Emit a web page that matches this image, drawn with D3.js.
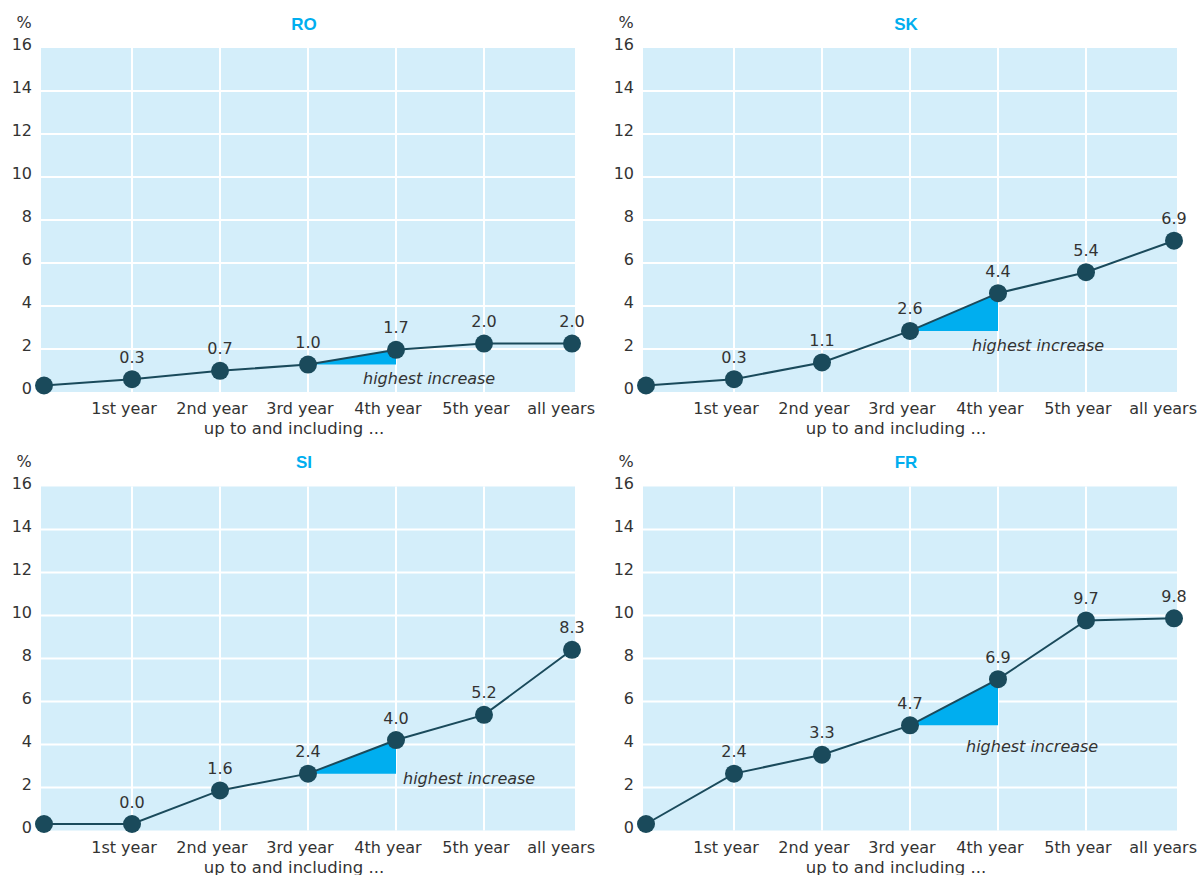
<!DOCTYPE html>
<html>
<head>
<meta charset="utf-8">
<script src="https://cdn.jsdelivr.net/npm/d3@7"></script>
<style>
  html, body { margin: 0; padding: 0; background: #ffffff; }
  svg { display: block; }
  text { font-family: "DejaVu Sans", sans-serif; fill: #333333; }
</style>
</head>
<body>
<svg id="chart" width="1198" height="875"></svg>
<script>
// ---- data ----
const categories = ["", "1st year", "2nd year", "3rd year", "4th year", "5th year", "all years"];
const yTicks = [0, 2, 4, 6, 8, 10, 12, 14, 16];
const countries = ["RO", "SK", "SI", "FR"];
const valuesRO = [0, 0.3, 0.7, 1.0, 1.7, 2.0, 2.0];
const valuesSK = [0, 0.3, 1.1, 2.6, 4.4, 5.4, 6.9];
const valuesSI = [0, 0.0, 1.6, 2.4, 4.0, 5.2, 8.3];
const valuesFR = [0, 2.4, 3.3, 4.7, 6.9, 9.7, 9.8];
const highlightCategory = "4th year";
const annotationText = "highest increase";
const xAxisTitle = "up to and including ...";
const unitLabel = "%";

// ---- layout / style ----
const panels = [
  { name: "RO", values: valuesRO, ox: 0,   oy: 0,     note: { dx: -33, dy: 19.5 } },
  { name: "SK", values: valuesSK, ox: 602, oy: 0,     note: { dx: -26, dy: 20 } },
  { name: "SI", values: valuesSI, ox: 0,   oy: 438.5, note: { dx: 7,   dy: 10 } },
  { name: "FR", values: valuesFR, ox: 602, oy: 438.5, note: { dx: -32, dy: 26.5 } }
];
const P = { left: 41, right: 575, top: 48, bottom: 392 };
const colors = { bg: "#d4eefa", grid: "#ffffff", line: "#1a4a5b", accent: "#00aeef", text: "#333333" };

const svg = d3.select("#chart");

panels.forEach(p => {
  const g = svg.append("g").attr("transform", `translate(${p.ox},${p.oy})`);

  const x = d3.scalePoint().domain(categories).range([P.left + 3, P.right - 3]);
  const yGrid = d3.scaleLinear().domain([0, 16]).range([P.bottom, P.top]);
  const yMark = d3.scaleLinear().domain([0, 16]).range([P.bottom - 6.5, P.top + 1.7]);

  // background
  g.append("rect")
    .attr("x", P.left).attr("y", P.top)
    .attr("width", P.right - P.left).attr("height", P.bottom - P.top)
    .attr("fill", colors.bg);

  // horizontal gridlines
  g.selectAll(".hgrid").data(yTicks.filter(t => t > 0 && t < 16)).join("line")
    .attr("x1", P.left).attr("x2", P.right)
    .attr("y1", d => yGrid(d)).attr("y2", d => yGrid(d))
    .attr("stroke", colors.grid).attr("stroke-width", 2);

  // vertical gridlines
  g.selectAll(".vgrid").data(categories.slice(1, categories.length - 1)).join("line")
    .attr("x1", d => x(d)).attr("x2", d => x(d))
    .attr("y1", P.top).attr("y2", P.bottom)
    .attr("stroke", colors.grid).attr("stroke-width", 2);

  // y tick labels
  g.selectAll(".ytick").data(yTicks).join("text")
    .attr("x", P.left - 9).attr("y", d => yGrid(d) + 2)
    .attr("text-anchor", "end").attr("font-size", 16)
    .text(d => d);

  // unit label
  g.append("text").attr("x", 24).attr("y", 28)
    .attr("text-anchor", "middle").attr("font-size", 16).text(unitLabel);

  // title
  g.append("text").attr("x", (P.left + P.right) / 2 - 4).attr("y", 29.5)
    .attr("text-anchor", "middle").attr("font-size", 17)
    .attr("font-weight", "bold")
    .style("font-family", "'Liberation Sans', Arial, sans-serif")
    .style("fill", colors.accent).text(p.name);

  // x tick labels
  g.selectAll(".xtick").data(categories.slice(1)).join("text")
    .attr("x", d => x(d) - 8).attr("y", P.bottom + 22)
    .attr("text-anchor", "middle").attr("font-size", 16)
    .text(d => d)
    .each(function () {
      const w = this.getComputedTextLength();
      const cx = +this.getAttribute("x");
      if (cx + w / 2 > P.right + 20) this.setAttribute("x", P.right + 20 - w / 2);
    });

  // x axis title
  g.append("text").attr("x", (P.left + P.right) / 2 - 14).attr("y", P.bottom + 42)
    .attr("text-anchor", "middle").attr("font-size", 16.5).text(xAxisTitle);

  const pts = categories.map((c, i) => ({ c, v: p.values[i], i }));
  const hi = categories.indexOf(highlightCategory);
  const a = pts[hi - 1], b = pts[hi];

  // highlight triangle
  g.append("path")
    .attr("d", `M${x(a.c)},${yMark(a.v)}L${x(b.c)},${yMark(b.v)}L${x(b.c)},${yMark(a.v)}Z`)
    .attr("fill", colors.accent);

  // line
  g.append("path").datum(pts)
    .attr("d", d3.line().x(d => x(d.c)).y(d => yMark(d.v)))
    .attr("fill", "none").attr("stroke", colors.line).attr("stroke-width", 2);

  // markers
  g.selectAll(".dot").data(pts).join("circle")
    .attr("cx", d => x(d.c)).attr("cy", d => yMark(d.v)).attr("r", 9)
    .attr("fill", colors.line);

  // value labels
  g.selectAll(".vlabel").data(pts.slice(1)).join("text")
    .attr("x", d => x(d.c)).attr("y", d => yMark(d.v) - 16.5)
    .attr("text-anchor", "middle").attr("font-size", 16)
    .text(d => d3.format(".1f")(d.v));

  // annotation
  g.append("text")
    .attr("x", x(b.c) + p.note.dx).attr("y", yMark(a.v) + p.note.dy)
    .attr("font-size", 16).attr("font-style", "italic")
    .text(annotationText);
});
</script>
</body>
</html>
